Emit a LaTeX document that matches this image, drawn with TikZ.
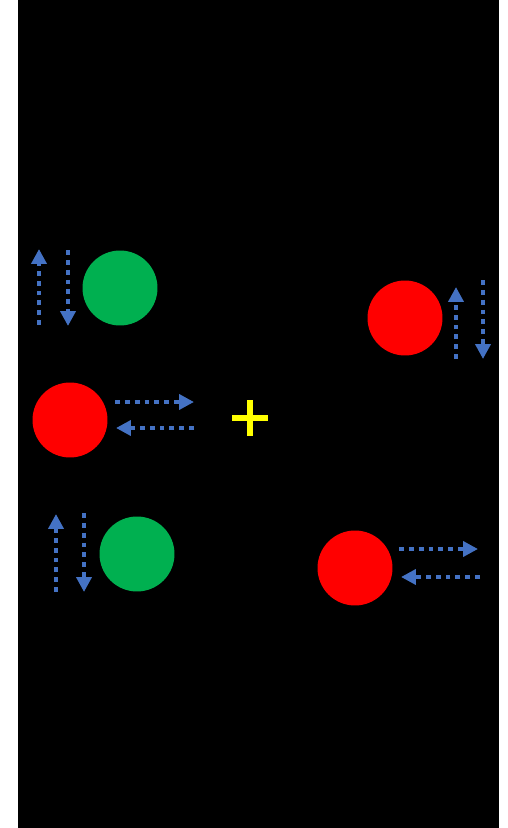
\documentclass[tikz,border=0pt]{standalone}
\usepackage{tikz}
\usetikzlibrary{arrows.meta, calc, positioning}
\definecolor{pfeilblau}{HTML}{4472C4}
\definecolor{gruen}{HTML}{00B050}
\definecolor{rot}{HTML}{FF0000}
\definecolor{gelb}{HTML}{FFFF00}

\begin{document}
\begin{tikzpicture}[
    x=0.02cm, y=-0.02cm,
    kugel/.style={circle, inner sep=0pt, minimum size=1.5cm},
    pfeil/.style={pfeilblau, line width=2.8pt,
      dash pattern=on 2.8pt off 2.8pt,
      -{Triangle[length=8.5pt, width=8.5pt]}},
  ]
  \useasboundingbox (0,0) rectangle (507,828);
  \fill[black] (18,0) rectangle (499,828);

  % Kugeln
  \node[kugel, fill=gruen] (gruen1) at (120,288) {};
  \node[kugel, fill=rot]   (rot1)   at (70,420)  {};
  \node[kugel, fill=rot]   (rot2)   at (405,318) {};
  \node[kugel, fill=gruen] (gruen2) at (137,554) {};
  \node[kugel, fill=rot]   (rot3)   at (355,568) {};

  % Kreuz
  \coordinate (kreuz) at (250,418);
  \draw[gelb, line width=3.4pt] ($(kreuz)+(-18,0)$) -- ($(kreuz)+(18,0)$)
    ($(kreuz)+(0,-18)$) -- ($(kreuz)+(0,18)$);

  % Pfeile gruen1
  \coordinate (g1a) at (39,325);  \coordinate (g1b) at (39,249);
  \coordinate (g1c) at (68,250);  \coordinate (g1d) at (68,326);
  \draw[pfeil] (g1a) -- (g1b);
  \draw[pfeil] (g1c) -- (g1d);

  % Pfeile rot1
  \coordinate (r1a) at (115,402); \coordinate (r1b) at (194,402);
  \coordinate (r1c) at (194,428); \coordinate (r1d) at (116,428);
  \draw[pfeil] (r1a) -- (r1b);
  \draw[pfeil] (r1c) -- (r1d);

  % Pfeile rot2
  \coordinate (r2a) at (456,359); \coordinate (r2b) at (456,287);
  \coordinate (r2c) at (483,280); \coordinate (r2d) at (483,359);
  \draw[pfeil] (r2a) -- (r2b);
  \draw[pfeil] (r2c) -- (r2d);

  % Pfeile gruen2
  \coordinate (g2a) at (56,592);  \coordinate (g2b) at (56,514);
  \coordinate (g2c) at (84,513);  \coordinate (g2d) at (84,592);
  \draw[pfeil] (g2a) -- (g2b);
  \draw[pfeil] (g2c) -- (g2d);

  % Pfeile rot3
  \coordinate (r3a) at (399,549); \coordinate (r3b) at (478,549);
  \coordinate (r3c) at (480,577); \coordinate (r3d) at (401,577);
  \draw[pfeil] (r3a) -- (r3b);
  \draw[pfeil] (r3c) -- (r3d);
\end{tikzpicture}
\end{document}
